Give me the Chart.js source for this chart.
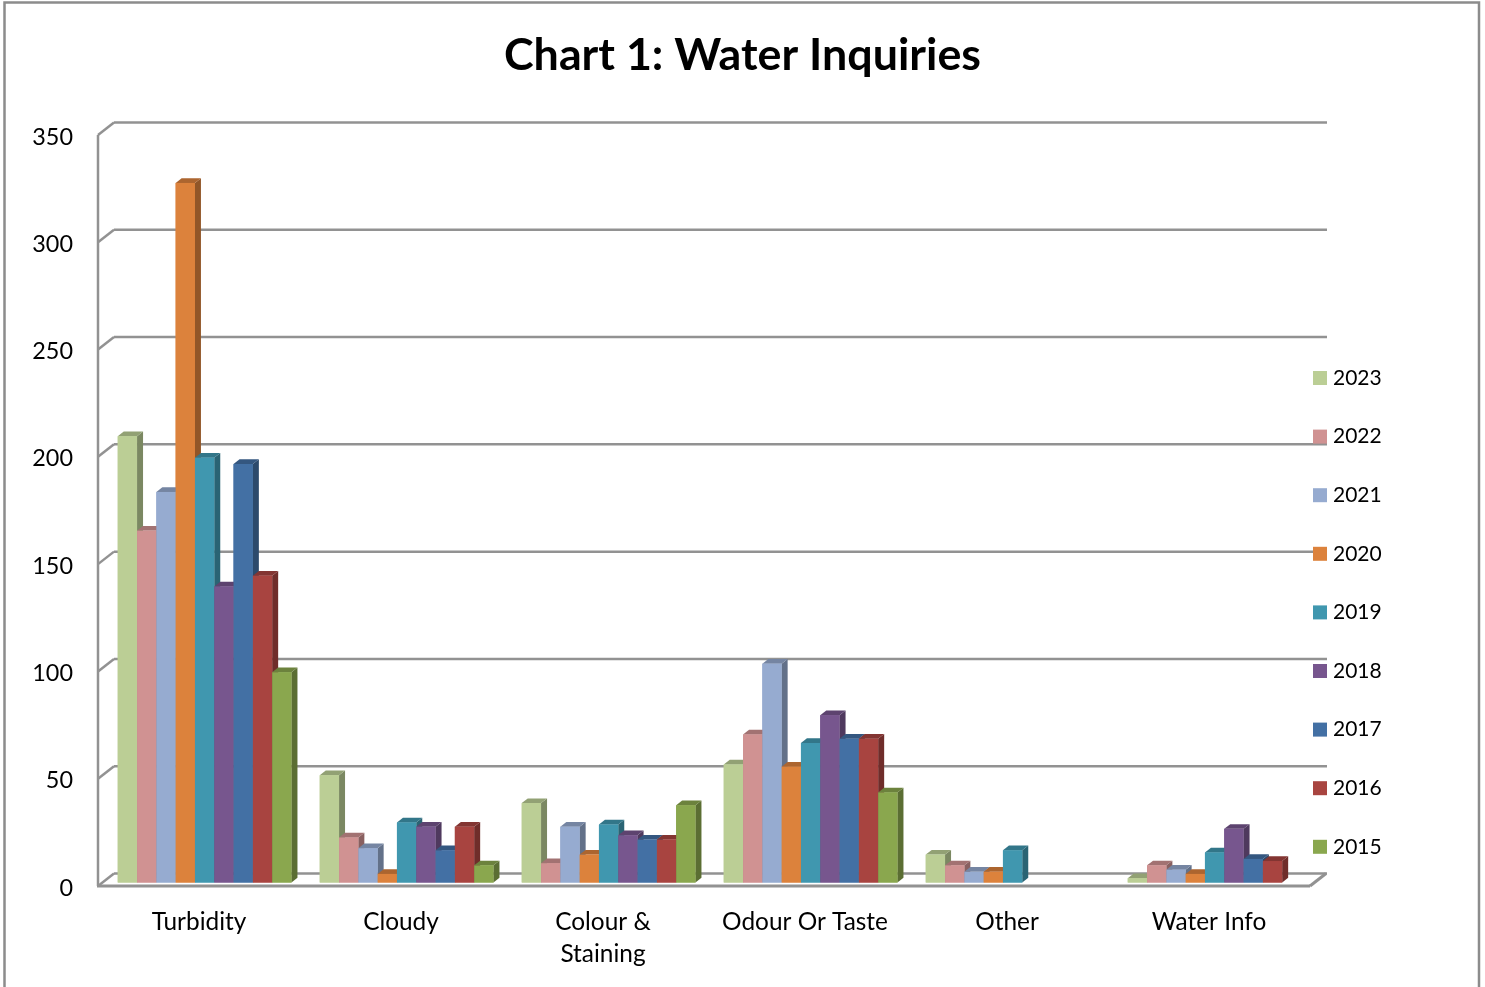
<!DOCTYPE html>
<html><head><meta charset="utf-8">
<style>html,body{margin:0;padding:0;background:#fff}canvas{display:block}</style>
<script src="https://cdn.jsdelivr.net/npm/chart.js@4"></script>
</head><body><canvas id="c" width="1485" height="987"></canvas>
<script>
const categories = ['Turbidity','Cloudy',['Colour &','Staining'],'Odour Or Taste','Other','Water Info'];
const years = ['2023','2022','2021','2020','2019','2018','2017','2016','2015'];
const colors = ['#BBCE95','#D09292','#96ABD0','#DC823C','#4097AF','#77568E','#4370A4','#A84440','#8AA74E'];
const v2023 = [208,50,37,55,13,2];
const v2022 = [164,21,9,69,8,8];
const v2021 = [182,16,26,102,5,6];
const v2020 = [326,4,13,54,5,4];
const v2019 = [198,28,27,65,15,14];
const v2018 = [138,26,22,78,null,25];
const v2017 = [195,15,20,67,null,11];
const v2016 = [143,26,20,67,null,10];
const v2015 = [98,8,36,42,null,null];
const series = [v2023,v2022,v2021,v2020,v2019,v2018,v2017,v2016,v2015];

const FONT = 'Lato';
const AXIS = '#929292';
const WALL_DX = 16, WALL_DY = -12.5;
const BAR_SHIFT_X = 5.6, BAR_SHIFT_Y = -3.5;
const DEPTH_X = 6, DEPTH_Y = -4.7;

function shade(hex, f){
  const n = parseInt(hex.slice(1),16);
  return 'rgb(' + [(n>>16)&255,(n>>8)&255,n&255].map(c=>Math.round(c*f)).join(',') + ')';
}
function seg(ctx, x1,y1,x2,y2){ ctx.beginPath(); ctx.moveTo(x1,y1); ctx.lineTo(x2,y2); ctx.stroke(); }

const frame3d = {
  id:'frame3d',
  afterLayout(chart){
    const lg = chart.legend, p = 37.6;
    lg.left = 1317.5 - p; lg.right = lg.left + 200;
    lg.top = 367.5 - p; lg.bottom = lg.top + 600;
    chart.titleBlock.left = 0; chart.titleBlock.right = 1485;
  },
  beforeDraw(chart){
    const c = chart.ctx, a = chart.chartArea, y = chart.scales.y;
    c.save();
    c.strokeStyle = '#8c8c8c'; c.lineWidth = 2.5;
    c.beginPath(); c.moveTo(4.5,990); c.lineTo(4.5,2.5); c.lineTo(1479,2.5); c.lineTo(1479,990); c.stroke();
    c.strokeStyle = AXIS; c.lineWidth = 2.5;
    y.ticks.forEach(t=>{
      const py = y.getPixelForValue(t.value);
      seg(c, a.left, py, a.left+WALL_DX, py+WALL_DY);
      seg(c, a.left+WALL_DX, py+WALL_DY, a.right+WALL_DX+1, py+WALL_DY);
    });
    seg(c, a.left, a.bottom, a.left, a.top);
    c.lineWidth = 3;
    seg(c, a.left-1, a.bottom, a.right, a.bottom);
    seg(c, a.right, a.bottom, a.right+WALL_DX, a.bottom+WALL_DY);
    c.restore();
  },
  beforeDatasetsDraw(chart){
    const c = chart.ctx;
    c.save();
    c.translate(BAR_SHIFT_X, BAR_SHIFT_Y);
  },
  afterDatasetsDraw(chart){
    const c = chart.ctx;
    categories.forEach((_,i)=>{
      series.forEach((_s,d)=>{
        const el = chart.getDatasetMeta(d).data[i];
        if (series[d][i] == null || !el) return;
        const {x,y,base,width} = el.getProps(['x','y','base','width'],true);
        const l = x-width/2, r = x+width/2, col = colors[d];
        c.fillStyle = shade(col,0.66);
        c.beginPath(); c.moveTo(r,y); c.lineTo(r+DEPTH_X,y+DEPTH_Y); c.lineTo(r+DEPTH_X,base+DEPTH_Y); c.lineTo(r,base); c.closePath(); c.fill();
        c.fillStyle = shade(col,0.78);
        c.beginPath(); c.moveTo(l,y); c.lineTo(l+DEPTH_X,y+DEPTH_Y); c.lineTo(r+DEPTH_X,y+DEPTH_Y); c.lineTo(r,y); c.closePath(); c.fill();
        c.fillStyle = col;
        c.fillRect(l,y,width,base-y);
      });
    });
    c.restore();
  }
};

new Chart(document.getElementById('c'),{
  type:'bar',
  data:{
    labels:categories,
    datasets:years.map((yr,i)=>({label:yr,data:series[i],backgroundColor:colors[i],borderWidth:0,clip:false,
      categoryPercentage:0.86,barPercentage:1}))
  },
  plugins:[frame3d],
  options:{
    responsive:false,animation:false,
    layout:{padding:{left:0,right:175,top:0,bottom:0}},
    plugins:{
      tooltip:{enabled:false},
      title:{display:true,text:'Chart 1: Water Inquiries',color:'#000',
        font:{family:FONT,size:44.8,weight:'bold',lineHeight:1.2},
        padding:{top:29,bottom:52.2}},
      legend:{position:'chartArea',align:'start',
        labels:{boxWidth:5,boxHeight:5,padding:37.6,color:'#000',font:{family:FONT,size:21},
          generateLabels:(ch)=>ch.data.datasets.map((ds,i)=>({text:ds.label,fillStyle:colors[i],strokeStyle:colors[i],lineWidth:9,hidden:false,datasetIndex:i}))}}
    },
    scales:{
      x:{grid:{display:false},border:{display:false},
        afterFit(s){s.height=101;},
        ticks:{color:'#000',padding:12,maxRotation:0,autoSkip:false,font:{family:FONT,size:24.4,lineHeight:1.31}}},
      y:{min:0,max:350,grid:{display:false},border:{display:false},
        afterFit(s){s.width=98;},
        ticks:{stepSize:50,color:'#000',padding:17,labelOffset:2,font:{family:FONT,size:23.4}}}
    }
  }
});
</script></body></html>
